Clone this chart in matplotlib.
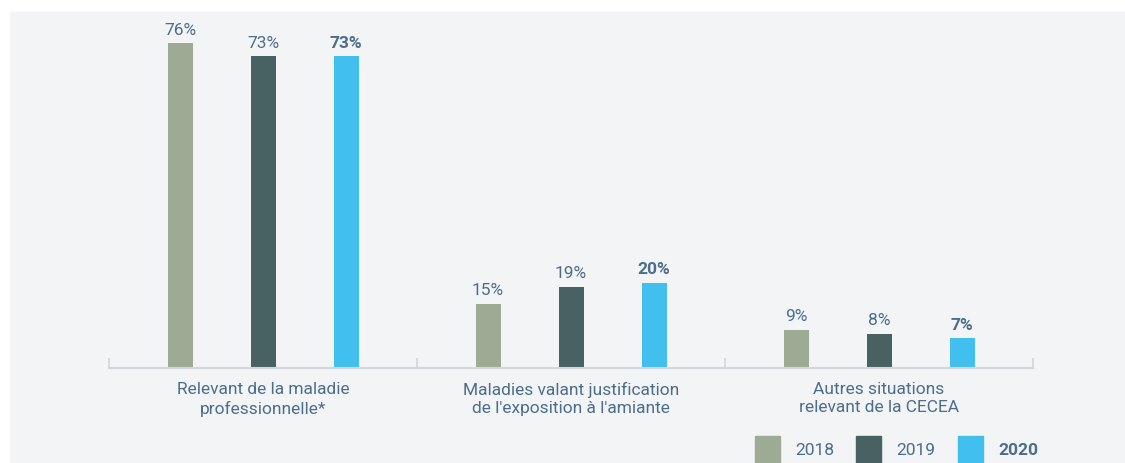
import numpy as np
import matplotlib.pyplot as plt
from matplotlib.patches import Rectangle

# données
categories = ["Relevant de la maladie\nprofessionnelle*",
              "Maladies valant justification\nde l'exposition à l'amiante",
              "Autres situations\nrelevant de la CECEA"]
years = ["2018", "2019", "2020"]
v2018 = [76, 15, 9]
v2019 = [73, 19, 8]
v2020 = [73, 20, 7]

colors = ["#9dab94", "#486163", "#41bfee"]
txt = "#4d6d8c"
plt.rcParams['font.family'] = ['Roboto', 'DejaVu Sans']

W, H = 1125, 464
fig = plt.figure(figsize=(W / 100, H / 100), dpi=100)
fig.patch.set_facecolor("white")
# fond gris, derrière les axes
fig.add_artist(Rectangle((10 / W, 0), 1 - 10 / W, 1 - 13 / H,
                         transform=fig.transFigure, color="#f3f4f6", zorder=-5))

ax = fig.add_axes([109 / W, (H - 369) / H, 924 / W, 342 / H])
ax.set_facecolor("none")

x = np.arange(len(categories))
off = 83 / 308
bw = 25 / 308
series = [v2018, v2019, v2020]
for i, vals in enumerate(series):
    xs = x + (i - 1) * off
    ax.bar(xs, vals, width=bw, color=colors[i], zorder=2)
    for xi, v in zip(xs, vals):
        ax.text(xi, v + 1.5, f"{v}%", ha="center", va="bottom", color=txt,
                fontsize=12.5, fontweight="bold" if i == 2 else "normal")

ax.set_xlim(-0.5, 2.5)
ax.set_ylim(0, 80)
for s in ["top", "right", "left"]:
    ax.spines[s].set_visible(False)
ax.spines["bottom"].set_color("#d3d6da")
ax.spines["bottom"].set_linewidth(1.5)
ax.set_yticks([])
ax.set_xticks([-0.5, 0.5, 1.5, 2.5])
ax.set_xticklabels([])
ax.tick_params(axis="x", direction="in", length=7, color="#d3d6da", width=1.2)

for xi, c in zip(x, categories):
    ax.text(xi, -3.0, c, ha="center", va="top", color=txt, fontsize=12.5,
            linespacing=1.3)

# légende
lx = [755, 856, 958]
for i, y in enumerate(years):
    fig.add_artist(Rectangle((lx[i] / W, 0), 25 / W, 27 / H,
                             transform=fig.transFigure, color=colors[i], zorder=2))
    fig.text((lx[i] + 40) / W, (H - 451) / H, y, ha="left", va="center", color=txt,
             fontsize=12.5, fontweight="bold" if i == 2 else "normal")

fig.savefig("out.png", dpi=100)
